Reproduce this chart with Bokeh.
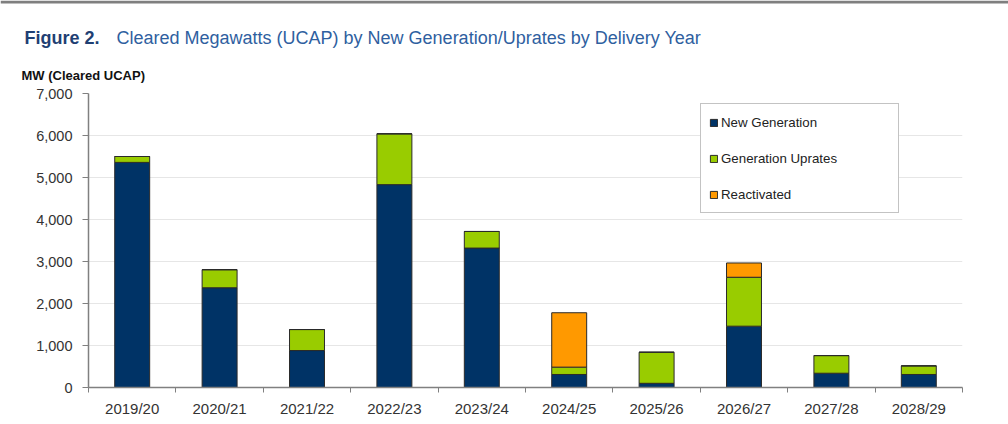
from bokeh.plotting import figure
from bokeh.layouts import column
from bokeh.models import (Legend, LegendItem, FixedTicker, NumeralTickFormatter,
                          Range1d, ColumnDataSource)
from bokeh.core.properties import value
from bokeh.embed import file_html
from bokeh.resources import INLINE

# ---- data ----
years = ["2019/20", "2020/21", "2021/22", "2022/23", "2023/24",
         "2024/25", "2025/26", "2026/27", "2027/28", "2028/29"]
new_generation = [5360, 2375, 880, 4830, 3320, 310, 100, 1460, 340, 310]
generation_uprates = [140, 430, 500, 1210, 395, 175, 740, 1165, 420, 205]
reactivated = [0, 0, 0, 0, 0, 1295, 0, 340, 0, 0]
y_ticks = [0, 1000, 2000, 3000, 4000, 5000, 6000, 7000]

series = ["New Generation", "Generation Uprates", "Reactivated"]
colors = ["#003366", "#99cc00", "#ff9900"]

title_bold = "Figure 2."
title_rest = "Cleared Megawatts (UCAP) by New Generation/Uprates by Delivery Year"
y_label = "MW (Cleared UCAP)"

FONT = "Liberation Sans"

# ---- header figure (title + axis caption) ----
W = 1008
HH = 85
h = figure(width=W, height=HH, output_backend="svg", toolbar_location=None,
           x_range=Range1d(0, W), y_range=Range1d(HH, 0),
           min_border=0, x_axis_type=None, y_axis_type=None)
h.frame_align = False
h.outline_line_color = None
h.grid.grid_line_color = None
h.border_fill_color = "white"
h.quad(left=[0], right=[W], top=[0], bottom=[3], color="#7f7f7f", line_color=None)
h.text(x=[24], y=[37], text=[title_bold], text_font=value(FONT), text_font_style="bold",
       text_font_size="18px", text_color="#1f3f73", text_baseline="alphabetic")
h.text(x=[116], y=[37], text=[title_rest], text_font=value(FONT),
       text_font_size="18px", text_color="#2f5f9f", text_baseline="alphabetic")
h.text(x=[21], y=[75], text=[y_label], text_font=value(FONT), text_font_style="bold",
       text_font_size="13px", text_color="#111111", text_baseline="alphabetic")

# ---- main chart ----
xpos = [i + 0.5 for i in range(len(years))]
src = ColumnDataSource(dict(x=xpos, ng=new_generation, gu=generation_uprates, re=reactivated))

p = figure(frame_width=874, frame_height=294, output_backend="svg", toolbar_location=None,
           x_range=Range1d(0, len(years)), y_range=Range1d(0, 7000),
           min_border_left=88, min_border_right=46, min_border_top=8, min_border_bottom=0)
p.frame_align = False
p.outline_line_color = None
p.background_fill_color = "white"
p.border_fill_color = "white"

renderers = p.vbar_stack(["ng", "gu", "re"], x="x", width=0.4, source=src,
                         color=colors, line_color="#2a2a2a", line_width=1)

p.xgrid.grid_line_color = None
p.ygrid.grid_line_color = "#e6e6e6"
p.ygrid.grid_line_width = 1

p.xaxis.ticker = FixedTicker(ticks=xpos, minor_ticks=list(range(len(years) + 1)))
p.xaxis.major_label_overrides = {x: y for x, y in zip(xpos, years)}
p.xaxis.major_tick_in = 0
p.xaxis.major_tick_out = 0
p.xaxis.minor_tick_in = 0
p.xaxis.minor_tick_out = 5
p.xaxis.minor_tick_line_color = "#808080"
p.xaxis.major_label_standoff = 7

p.yaxis.ticker = FixedTicker(ticks=y_ticks)
p.yaxis.formatter = NumeralTickFormatter(format="0,0")
p.yaxis.major_tick_in = 0
p.yaxis.major_tick_out = 6
p.yaxis.minor_tick_line_color = None
p.yaxis.major_tick_line_color = "#808080"
p.yaxis.major_label_standoff = 10

for ax in (p.xaxis[0], p.yaxis[0]):
    ax.axis_line_color = "#808080"
    ax.axis_line_width = 1.5
    ax.major_label_text_font = FONT
    ax.major_label_text_color = "#333333"
p.xaxis.major_label_text_font_size = "15px"
p.yaxis.major_label_text_font_size = "14.5px"

items = [LegendItem(label=s, renderers=[r]) for s, r in zip(series, renderers)]
legend = Legend(items=items, location=(612, 174), orientation="vertical",
                glyph_width=9, glyph_height=9, label_height=20, label_width=169,
                spacing=16, padding=8, margin=0, label_standoff=3,
                label_text_font=FONT, label_text_font_size="13.3px",
                label_text_color="#222222",
                border_line_color="#888888", border_line_width=1.5,
                background_fill_color="white", background_fill_alpha=1)
p.add_layout(legend, "center")

layout = column(h, p, spacing=0)
open("out.html", "w").write(file_html(layout, INLINE))
